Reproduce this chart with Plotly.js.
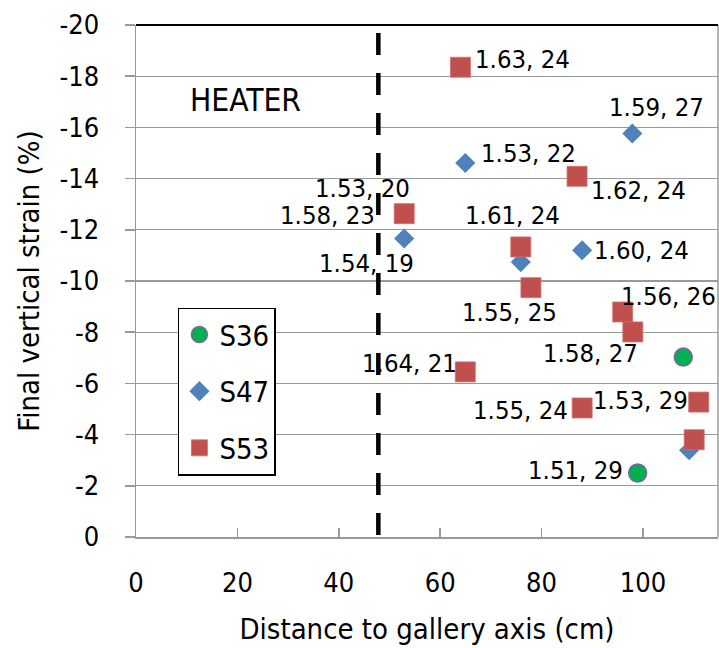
<!DOCTYPE html>
<html>
<head>
<meta charset="utf-8">
<script src="https://cdn.plot.ly/plotly-3.0.1.min.js"></script>
<style>
  html, body { margin: 0; padding: 0; background: #fff; }
  #chart { width: 719px; height: 648px; }
</style>
</head>
<body>
<div id="chart"></div>
<script>
// Final vertical strain against distance to the gallery axis, three sections.
// Each point is labelled "dry density, water content".

const seriesNames = ['S36', 'S47', 'S53'];

const xS36 = [107.95, 98.95];
const yS36 = [-7.03, -2.50];
const labelsS36 = ['1.58, 27', '1.51, 29'];

const xS47 = [97.9, 64.95, 52.9, 52.9, 75.9, 88.0, 109.1];
const yS47 = [-15.76, -14.61, -12.63, -11.66, -10.74, -11.20, -3.39];
const labelsS47 = ['1.59, 27', '1.53, 22', '1.53, 20', '1.54, 19', '', '1.60, 24', ''];

const xS53 = [64.0, 87.0, 52.9, 75.9, 77.9, 96.0, 98.0, 64.95, 88.0, 111.0, 110.1];
const yS53 = [-18.35, -14.09, -12.63, -11.33, -9.74, -8.79, -8.01, -6.45, -5.04, -5.27, -3.80];
const labelsS53 = ['1.63, 24', '1.62, 24', '1.58, 23', '1.61, 24', '1.55, 25', '1.56, 26', '',
                   '1.64, 21', '1.55, 24', '1.53, 29', ''];

// Heater boundary (cm from the gallery axis)
const heaterX = 47.8;
const heaterText = 'HEATER';

const yTickVals = [0, -2, -4, -6, -8, -10, -12, -14, -16, -18, -20];
const yTickText = ['0', '-2', '-4', '-6', '-8', '-10', '-12', '-14', '-16', '-18', '-20'];
const xTickVals = [0, 20, 40, 60, 80, 100];
const xTickText = ['0', '20', '40', '60', '80', '100'];

// label placement: pixel offset of each label centre from its marker (right, up)
const offS36 = [[-93, 4], [-62, 3]];
const offS47 = [[24, 27], [63, 10], [-42, 26], [-38, -24], null, [59, 0], null];
const offS53 = [[62, 8], [61, -14], [-77, -1], [-8, 32], [-21, -24], [46, 16], null,
                [-56, 9], [-62, -2], [-58, 2], null];

const FONT = '"DejaVu Sans Condensed", "DejaVu Sans", sans-serif';
const GRID = '#9a9a9a';

function trace(name, xs, ys, marker) {
  return {
    type: 'scatter', mode: 'markers', name: name, x: xs, y: ys,
    marker: marker, legendgroup: name, hoverinfo: 'skip', cliponaxis: false
  };
}

const data = [
  trace(seriesNames[0], xS36, yS36, {symbol: 'circle', size: 18, color: '#00B050',
        line: {color: '#8064A2', width: 1.5}}),
  trace(seriesNames[1], xS47, yS47, {symbol: 'diamond', size: 15.5, color: '#4F81BD',
        line: {width: 0}}),
  trace(seriesNames[2], xS53, yS53, {symbol: 'square', size: 20, color: '#C0504D',
        line: {color: '#CF6F6C', width: 0.8}})
];

const annotations = [];
function addLabels(xs, ys, labels, offs) {
  labels.forEach((t, i) => {
    if (!t || !offs[i]) return;
    annotations.push({
      x: xs[i], y: ys[i], xref: 'x', yref: 'y', text: t, showarrow: false,
      xanchor: 'center', yanchor: 'middle', xshift: offs[i][0], yshift: offs[i][1],
      font: {family: FONT, size: 25.5, color: '#000'}
    });
  });
}
addLabels(xS36, yS36, labelsS36, offS36);
addLabels(xS47, yS47, labelsS47, offS47);
addLabels(xS53, yS53, labelsS53, offS53);

annotations.push({
  x: 21.5, y: -17.06, xref: 'x', yref: 'y', text: heaterText, showarrow: false,
  xanchor: 'center', yanchor: 'middle', font: {family: FONT, size: 31.5, color: '#000'}
});

const layout = {
  width: 719, height: 648,
  margin: {l: 136, r: 1, t: 24.7, b: 111.3},
  paper_bgcolor: '#fff', plot_bgcolor: '#fff',
  font: {family: FONT, color: '#000'},
  showlegend: true,
  legend: {
    x: 0.072, y: 0.448, xanchor: 'left', yanchor: 'top',
    bgcolor: '#fff', bordercolor: '#000', borderwidth: 1.5,
    font: {family: FONT, size: 29, color: '#000'},
    tracegroupgap: 16, traceorder: 'grouped'
  },
  xaxis: {
    range: [0, 114.8], tickmode: 'array', tickvals: xTickVals, ticktext: xTickText,
    showgrid: false, zeroline: false, showline: true, linecolor: GRID, linewidth: 1.5,
    ticks: 'inside', ticklen: 9, tickcolor: GRID, tickwidth: 1.5,
    tickfont: {family: FONT, size: 27}, ticklabelstandoff: 21,
    title: {text: 'Distance to gallery axis (cm)', font: {family: FONT, size: 29}, standoff: 22}
  },
  yaxis: {
    range: [0, -20], tickmode: 'array', tickvals: yTickVals, ticktext: yTickText,
    showgrid: true, gridcolor: GRID, gridwidth: 1.3, zeroline: false,
    showline: true, linecolor: GRID, linewidth: 1.5,
    ticks: 'outside', ticklen: 10, tickcolor: GRID, tickwidth: 1.5,
    tickfont: {family: FONT, size: 27}, ticklabelstandoff: 20,
    title: {text: 'Final vertical strain (%)', font: {family: FONT, size: 29}, standoff: 11}
  },
  shapes: [
    // right frame edge
    {type: 'line', xref: 'paper', yref: 'paper', x0: 1, x1: 1, y0: 0, y1: 1,
     line: {color: GRID, width: 1.5}},
    // top frame edge
    {type: 'line', xref: 'paper', yref: 'paper', x0: 0, x1: 1, y0: 1, y1: 1,
     line: {color: '#000', width: 2}},
    // heater boundary
    {type: 'line', xref: 'x', yref: 'y', x0: heaterX, x1: heaterX, y0: -20, y1: 0,
     layer: 'above', line: {color: '#000', width: 4.5, dash: '0px,8px,22px,10px'}}
  ],
  annotations: annotations
};

Plotly.newPlot('chart', data, layout, {displayModeBar: false, staticPlot: true});
</script>
</body>
</html>
